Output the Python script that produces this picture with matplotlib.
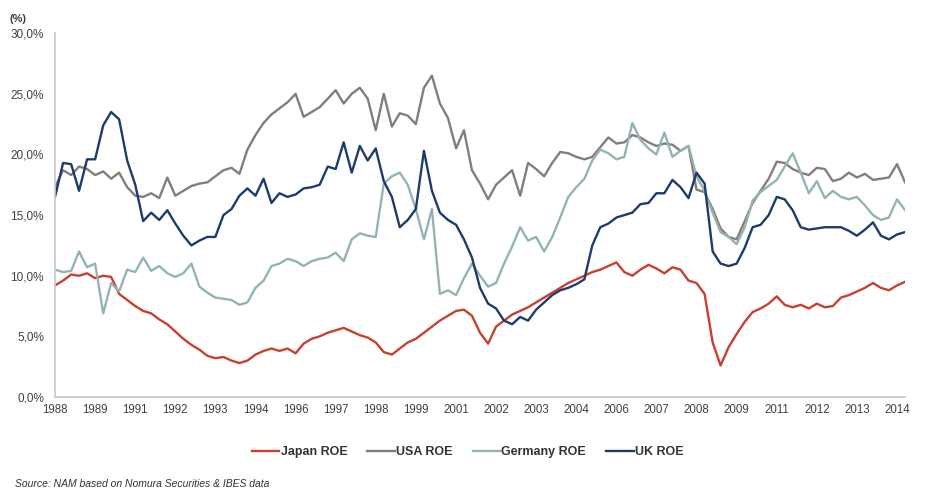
import numpy as np
import pandas as pd
import matplotlib
matplotlib.use("Agg")
import matplotlib.pyplot as plt
from matplotlib.ticker import FuncFormatter

plt.rcParams['font.family'] = ['Liberation Sans', 'DejaVu Sans']

# quarterly readings, July 1988 .. Jan 2015 (ROE in %)
japan = [9.2, 9.6, 10.1, 10.0, 10.2, 9.8, 10.0, 9.9, 8.5, 8.0,
         7.5, 7.1, 6.9, 6.4, 6.0, 5.4, 4.8, 4.3, 3.9, 3.4,
         3.2, 3.3, 3.0, 2.8, 3.0, 3.5, 3.8, 4.0, 3.8, 4.0,
         3.6, 4.4, 4.8, 5.0, 5.3, 5.5, 5.7, 5.4, 5.1, 4.9,
         4.5, 3.7, 3.5, 4.0, 4.5, 4.8, 5.3, 5.8, 6.3, 6.7,
         7.1, 7.2, 6.7, 5.3, 4.4, 5.8, 6.3, 6.8, 7.1, 7.4,
         7.8, 8.2, 8.6, 9.0, 9.4, 9.7, 10.0, 10.3, 10.5, 10.8,
         11.1, 10.3, 10.0, 10.5, 10.9, 10.6, 10.2, 10.7, 10.5, 9.6,
         9.4, 8.5, 4.5, 2.6, 4.1, 5.2, 6.2, 7.0, 7.3, 7.7,
         8.3, 7.6, 7.4, 7.6, 7.3, 7.7, 7.4, 7.5, 8.2, 8.4,
         8.7, 9.0, 9.4, 9.0, 8.8, 9.2, 9.5]

usa = [17.3, 18.7, 18.3, 19.0, 18.8, 18.3, 18.6, 18.0, 18.5, 17.3,
       16.6, 16.5, 16.8, 16.4, 18.1, 16.6, 17.0, 17.4, 17.6, 17.7,
       18.2, 18.7, 18.9, 18.4, 20.4, 21.6, 22.6, 23.3, 23.8, 24.3,
       25.0, 23.1, 23.5, 23.9, 24.6, 25.3, 24.2, 25.0, 25.5, 24.6,
       22.0, 25.0, 22.3, 23.4, 23.2, 22.5, 25.5, 26.5, 24.2, 23.0,
       20.5, 22.0, 18.7, 17.6, 16.3, 17.5, 18.1, 18.7, 16.6, 19.3,
       18.8, 18.2, 19.3, 20.2, 20.1, 19.8, 19.6, 19.8, 20.6, 21.4,
       20.9, 21.0, 21.6, 21.4, 21.0, 20.7, 20.9, 20.8, 20.3, 20.7,
       17.1, 16.9, 15.5, 13.9, 13.2, 13.0, 14.5, 16.0, 17.0, 18.0,
       19.4, 19.3, 18.8, 18.5, 18.3, 18.9, 18.8, 17.8, 18.0, 18.5,
       18.1, 18.4, 17.9, 18.0, 18.1, 19.2, 17.7]

germany = [10.5, 10.3, 10.4, 12.0, 10.7, 11.0, 6.9, 9.4, 8.7, 10.5,
           10.3, 11.5, 10.4, 10.8, 10.2, 9.9, 10.2, 11.0, 9.1, 8.6,
           8.2, 8.1, 8.0, 7.6, 7.8, 9.0, 9.6, 10.8, 11.0, 11.4,
           11.2, 10.8, 11.2, 11.4, 11.5, 11.9, 11.2, 13.0, 13.5, 13.3,
           13.2, 17.6, 18.2, 18.5, 17.5, 15.5, 13.0, 15.5, 8.5, 8.8,
           8.4, 9.8, 11.0, 10.0, 9.1, 9.4, 11.0, 12.4, 14.0, 12.9,
           13.2, 12.0, 13.2, 14.8, 16.5, 17.3, 18.0, 19.5, 20.4, 20.1,
           19.6, 19.8, 22.6, 21.2, 20.5, 20.0, 21.8, 19.8, 20.3, 20.7,
           18.2, 17.0, 15.2, 13.6, 13.2, 12.6, 14.0, 16.2, 16.9, 17.4,
           17.9, 19.0, 20.1, 18.5, 16.8, 17.8, 16.4, 17.0, 16.5, 16.3,
           16.5, 15.8, 15.0, 14.6, 14.8, 16.3, 15.4]

uk = [16.5, 19.3, 19.2, 17.0, 19.6, 19.6, 22.4, 23.5, 22.9, 19.5,
      17.5, 14.5, 15.2, 14.6, 15.4, 14.3, 13.3, 12.5, 12.9, 13.2,
      13.2, 15.0, 15.5, 16.6, 17.2, 16.6, 18.0, 16.0, 16.8, 16.5,
      16.7, 17.2, 17.3, 17.5, 19.0, 18.8, 21.0, 18.5, 20.7, 19.5,
      20.5, 17.8, 16.5, 14.0, 14.6, 15.5, 20.3, 17.0, 15.2, 14.6,
      14.2, 13.0, 11.5, 9.0, 7.7, 7.3, 6.3, 6.0, 6.6, 6.3,
      7.2, 7.8, 8.4, 8.8, 9.0, 9.3, 9.7, 12.5, 14.0, 14.3,
      14.8, 15.0, 15.2, 15.9, 16.0, 16.8, 16.8, 17.9, 17.3, 16.4,
      18.5, 17.6, 12.0, 11.0, 10.8, 11.0, 12.3, 14.0, 14.2, 15.0,
      16.5, 16.3, 15.4, 14.0, 13.8, 13.9, 14.0, 14.0, 14.0, 13.7,
      13.3, 13.8, 14.4, 13.3, 13.0, 13.4, 13.6]

year_labels = ["1988", "1989", "1991", "1992", "1993", "1994", "1996", "1997",
               "1998", "1999", "2001", "2002", "2003", "2004", "2006", "2007",
               "2008", "2009", "2011", "2012", "2013", "2014"]

dates = pd.date_range("1988-07-01", periods=len(japan), freq="3MS")
tick_dates = pd.date_range("1988-07-01", periods=len(year_labels), freq="15MS")

series = [
    ("Japan ROE", japan, "#c8412f"),
    ("USA ROE", usa, "#847d7d"),
    ("Germany ROE", germany, "#93b4b4"),
    ("UK ROE", uk, "#1d3c6e"),
]

fig = plt.figure(figsize=(9.26, 4.93), dpi=100)
ax = fig.add_axes([0.0594, 0.1947, 0.918, 0.738])

for name, vals, col in series:
    ax.plot(dates, vals, color=col, lw=1.7, label=name)

ax.set_ylim(0, 30)
ax.set_yticks(np.arange(0, 31, 5))
ax.yaxis.set_major_formatter(FuncFormatter(lambda v, p: f"{v:.1f}%".replace(".", ",")))
ax.set_xlim(dates[0], dates[-1])
ax.set_xticks(tick_dates)
ax.set_xticklabels(year_labels)

for s in ["top", "right"]:
    ax.spines[s].set_visible(False)
for s in ["left", "bottom"]:
    ax.spines[s].set_color("#c8c8c8")
    ax.spines[s].set_linewidth(1.2)
ax.tick_params(axis="y", length=0, pad=8, labelsize=8.5, labelcolor="#404040")
ax.tick_params(axis="x", length=0, pad=5, labelsize=8.3, labelcolor="#404040")

fig.text(0.010, 0.955, "(%)", fontsize=8, fontweight="bold", color="#404040")

leg = fig.legend(loc="center", bbox_to_anchor=(0.505, 0.083), ncol=4, frameon=False,
                 handlelength=2.2, handletextpad=0.1, columnspacing=1.6,
                 prop={"size": 9, "weight": "bold"})
for t in leg.get_texts():
    t.set_color("#333333")

fig.text(0.016, 0.012, "Source: NAM based on Nomura Securities & IBES data",
         fontsize=7.5, style="italic", color="#333333")

fig.savefig("out.png", dpi=100, facecolor="white")
